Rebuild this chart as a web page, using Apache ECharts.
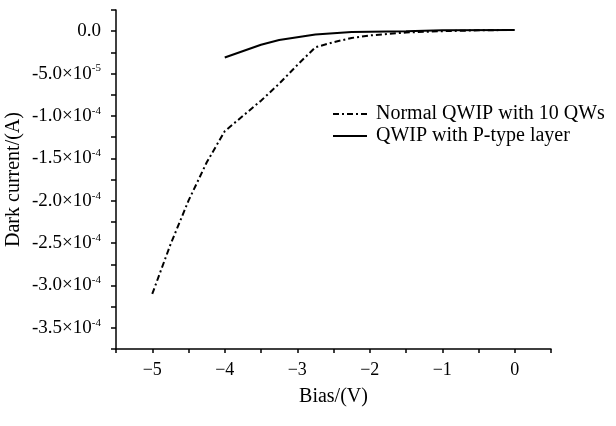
<!DOCTYPE html>
<html>
<head>
<meta charset="utf-8">
<script src="https://cdn.jsdelivr.net/npm/echarts@6/dist/echarts.min.js"></script>
<style>
    html, body { margin: 0; padding: 0; background: #fff; }
    #chart { width: 616px; height: 426px; }
</style>
</head>
<body>
<div id="chart"></div>
<script>
    // bias (V) and dark current (A)
    const normalBias = [-5, -4.75, -4.5, -4.25, -4, -3.75, -3.5, -3.25, -3, -2.75, -2.5, -2.25, -2, -1.5, -1, -0.5, 0]
    const normalCurrent = [-3.1e-4, -2.52e-4, -2.0e-4, -1.55e-4, -1.18e-4, -1.0e-4, -8.2e-5, -6.2e-5, -4.0e-5, -1.9e-5, -1.3e-5, -8e-6, -5e-6, -1.5e-6, 0, 1e-6, 1.5e-6]
    const pTypeBias = [-4, -3.5, -3.25, -2.75, -2.25, -1.5, -1, 0]
    const pTypeCurrent = [-3.1e-5, -1.6e-5, -1.05e-5, -4e-6, -1e-6, 0, 1e-6, 1.5e-6]

    const seriesNames = ['Normal QWIP with 10 QWs', 'QWIP with P-type layer']

    // tick labels
    const xTicks = [-5, -4, -3, -2, -1, 0]
    const xTickLabels = ['\u22125', '\u22124', '\u22123', '\u22122', '\u22121', '0']
    const yTicks = [0, -5e-5, -1e-4, -1.5e-4, -2e-4, -2.5e-4, -3e-4, -3.5e-4]
    const yTickLabels = ['0.0', '-5.0\u00d710{s|-5}', '-1.0\u00d710{s|-4}', '-1.5\u00d710{s|-4}',
        '-2.0\u00d710{s|-4}', '-2.5\u00d710{s|-4}', '-3.0\u00d710{s|-4}', '-3.5\u00d710{s|-4}']

    const font = '"Liberation Serif", "Times New Roman", serif'
    const chart = echarts.init(document.getElementById('chart'))

    function pairs(xs, ys) {
        return xs.map((x, i) => [x, ys[i]])
    }

    const option = {
        backgroundColor: '#fff',
        animation: false,
        textStyle: { fontFamily: font, color: '#000' },
        grid: { left: 116, right: 65, top: 10, bottom: 77, outerBoundsMode: 'none' },
        legend: {
            orient: 'vertical',
            left: 327,
            top: 99,
            itemWidth: 34,
            itemHeight: 14,
            itemGap: 2,
            data: seriesNames,
            itemStyle: { opacity: 0 },
            textStyle: { fontFamily: font, fontSize: 20, color: '#000', padding: [0, 0, 0, 4] }
        },
        xAxis: {
            type: 'value',
            min: -5.5,
            max: 0.5,
            interval: 0.5,
            name: 'Bias/(V)',
            nameLocation: 'middle',
            nameGap: 38,
            nameTextStyle: { fontFamily: font, fontSize: 20, color: '#000' },
            splitLine: { show: false },
            axisLine: { onZero: false, lineStyle: { color: '#000', width: 1.5 } },
            axisTick: { length: 4, lineStyle: { color: '#000', width: 1.5 } },
            axisLabel: {
                fontFamily: font, fontSize: 18, color: '#000', margin: 12,
                formatter: function (v) {
                    const i = xTicks.findIndex(t => Math.abs(t - v) < 1e-9)
                    return i < 0 ? '' : xTickLabels[i]
                }
            }
        },
        yAxis: {
            type: 'value',
            min: -3.75e-4,
            max: 2.5e-5,
            interval: 2.5e-5,
            name: 'Dark current/(A)',
            nameLocation: 'middle',
            nameGap: 92,
            nameMoveOverlap: false,
            nameTextStyle: { fontFamily: font, fontSize: 20, color: '#000' },
            splitLine: { show: false },
            axisLine: { onZero: false, lineStyle: { color: '#000', width: 1.5 } },
            axisTick: { length: 5, lineStyle: { color: '#000', width: 1.5 } },
            axisLabel: {
                fontFamily: font, fontSize: 19, color: '#000', margin: 15,
                rich: { s: { fontFamily: font, fontSize: 11, verticalAlign: 'top', padding: [0, 0, 10, 0] } },
                formatter: function (v) {
                    const i = yTicks.findIndex(t => Math.abs(t - v) < 1e-9)
                    return i < 0 ? '' : yTickLabels[i]
                }
            }
        },
        series: [
            {
                name: seriesNames[0],
                type: 'line',
                symbol: 'none',
                data: pairs(normalBias, normalCurrent),
                lineStyle: { color: '#000', width: 2, type: [6, 3, 2, 3] },
                itemStyle: { color: '#000' }
            },
            {
                name: seriesNames[1],
                type: 'line',
                symbol: 'none',
                data: pairs(pTypeBias, pTypeCurrent),
                lineStyle: { color: '#000', width: 2 },
                itemStyle: { color: '#000' }
            }
        ]
    }
    chart.setOption(option)
</script>
</body>
</html>
